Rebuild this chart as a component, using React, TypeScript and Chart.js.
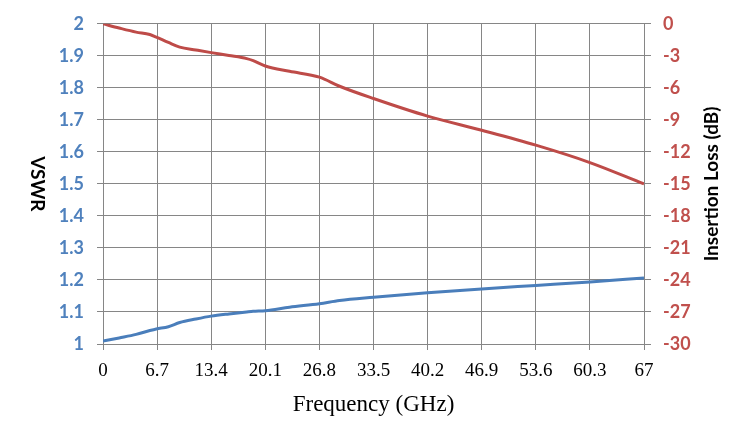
import { useEffect, useRef } from 'react';
import { Chart, registerables } from 'chart.js';

Chart.register(...registerables);

// frequency points (GHz)
const freq = [0, 2, 4.1, 5.8, 6.6, 8.1, 9.5, 11.5, 13.4, 15.6, 17.8, 18.6, 20.1, 23.1, 26.8, 29.3, 33.5, 40.2, 46.9, 53.6, 60.3, 67];
const vswr = [1.009, 1.019, 1.03, 1.042, 1.047, 1.054, 1.067, 1.078, 1.087, 1.094, 1.1, 1.102, 1.104, 1.115, 1.126, 1.136, 1.146, 1.16, 1.172, 1.183, 1.194, 1.206];
const insertionLoss = [0, -0.4, -0.78, -1.0, -1.25, -1.75, -2.18, -2.45, -2.7, -2.97, -3.26, -3.45, -3.95, -4.45, -5.0, -5.85, -7.0, -8.65, -9.97, -11.37, -13.0, -15.0];

const xTicks = [0, 6.7, 13.4, 20.1, 26.8, 33.5, 40.2, 46.9, 53.6, 60.3, 67];
const vswrTicks = [1, 1.1, 1.2, 1.3, 1.4, 1.5, 1.6, 1.7, 1.8, 1.9, 2];
const lossTicks = [-30, -27, -24, -21, -18, -15, -12, -9, -6, -3, 0];

const GRID = '#868686';
const BLUE = '#4A7EBB';
const RED = '#BE4B48';

const axisTitles = {
  id: 'axisTitles',
  afterDraw(chart: any) {
    const { ctx, chartArea } = chart;
    const cy = (chartArea.top + chartArea.bottom) / 2;
    const cx = (chartArea.left + chartArea.right) / 2;
    ctx.save();
    ctx.fillStyle = '#000';
    ctx.textAlign = 'center';
    ctx.textBaseline = 'middle';

    ctx.font = 'bold 19px Lato';
    ctx.save();
    ctx.translate(37, cy);
    ctx.rotate(Math.PI / 2);
    ctx.fillText('VSWR', 0, 0);
    ctx.restore();

    ctx.save();
    ctx.translate(712, cy);
    ctx.rotate(-Math.PI / 2);
    ctx.fillText('Insertion Loss (dB)', 0, 0);
    ctx.restore();

    ctx.font = '23px "Liberation Serif"';
    ctx.fillText('Frequency (GHz)', cx, 405);
    ctx.restore();
  },
};

export default function App() {
  const canvasRef = useRef<HTMLCanvasElement | null>(null);

  useEffect(() => {
    if (!canvasRef.current) return;
    const ctx = canvasRef.current.getContext('2d');
    if (!ctx) return;
    const chart = new Chart(ctx, {
      type: 'line',
      data: {
        datasets: [
          {
            label: 'VSWR',
            data: freq.map((f, i) => ({ x: f, y: vswr[i] })),
            borderColor: BLUE,
            borderWidth: 3,
            pointRadius: 0,
            cubicInterpolationMode: 'monotone',
            yAxisID: 'y',
          },
          {
            label: 'Insertion Loss',
            data: freq.map((f, i) => ({ x: f, y: insertionLoss[i] })),
            borderColor: RED,
            borderWidth: 3,
            pointRadius: 0,
            cubicInterpolationMode: 'monotone',
            yAxisID: 'y2',
          },
        ],
      },
      plugins: [axisTitles],
      options: {
        responsive: false,
        animation: false,
        layout: { padding: { top: 23, left: 0, right: 0, bottom: 0 } },
        plugins: { legend: { display: false }, tooltip: { enabled: false } },
        scales: {
          x: {
            type: 'linear',
            min: 0,
            max: 67,
            afterBuildTicks: (axis: any) => {
              axis.ticks = xTicks.map((v) => ({ value: v }));
            },
            afterFit: (axis: any) => {
              axis.height = 100;
            },
            grid: { color: GRID, tickLength: 6 },
            border: { color: GRID },
            ticks: {
              color: '#000',
              padding: 10,
              maxRotation: 0,
              autoSkip: false,
              font: { family: '"Liberation Serif"', size: 19 },
              callback: (v: any) => String(v),
            },
          },
          y: {
            type: 'linear',
            position: 'left',
            min: 1,
            max: 2,
            afterBuildTicks: (axis: any) => {
              axis.ticks = vswrTicks.map((v) => ({ value: v }));
            },
            afterFit: (axis: any) => {
              axis.width = 103;
            },
            grid: { color: GRID, tickLength: 6 },
            border: { color: GRID },
            ticks: {
              color: '#4F81BD',
              padding: 13,
              font: { family: 'Lato', size: 18, weight: 'bold' },
              callback: (v: any) => String(Number(Number(v).toFixed(1))),
            },
          },
          y2: {
            type: 'linear',
            position: 'right',
            min: -30,
            max: 0,
            afterBuildTicks: (axis: any) => {
              axis.ticks = lossTicks.map((v) => ({ value: v }));
            },
            afterFit: (axis: any) => {
              axis.width = 105;
            },
            grid: { color: GRID, tickLength: 7, drawOnChartArea: false },
            border: { color: GRID },
            ticks: {
              color: '#C0504D',
              padding: 12,
              font: { family: 'Lato', size: 18, weight: 'bold' },
              callback: (v: any) => String(v),
            },
          },
        },
      },
    });
    return () => chart.destroy();
  }, []);

  return (
    <div style={{ position: 'fixed', left: 0, top: 0, width: 749, height: 444, background: '#fff' }}>
      <canvas ref={canvasRef} width={749} height={444} />
    </div>
  );
}
